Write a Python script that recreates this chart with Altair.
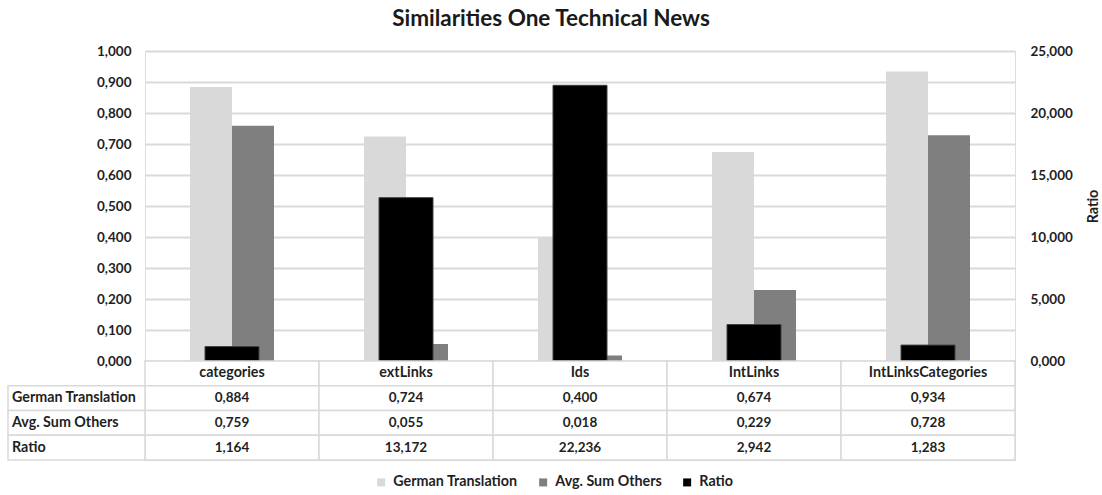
import altair as alt
import pandas as pd

# --- data -------------------------------------------------------------
categories = ["categories", "extLinks", "Ids", "IntLinks", "IntLinksCategories"]
german_translation = [0.884, 0.724, 0.400, 0.674, 0.934]
avg_sum_others = [0.759, 0.055, 0.018, 0.229, 0.728]
ratio = [1.164, 13.172, 22.236, 2.942, 1.283]

series = ["German Translation", "Avg. Sum Others", "Ratio"]
series_colors = ["#d9d9d9", "#7f7f7f", "#000000"]

left_ticks = [i / 10 for i in range(11)]
right_ticks = [0, 5, 10, 15, 20, 25]

FONT = "Lato"
TEXT_COLOR = "#1f1f1f"
GRID = "#d9d9d9"
WORD_SIZE = 14.3
NUM_SIZE = 13.5


def fmt(v):
    """German-style decimal formatting with three digits."""
    return f"{v:.3f}".replace(".", ",")


primary_df = pd.DataFrame({
    "category": categories * 2,
    "series": [series[0]] * len(categories) + [series[1]] * len(categories),
    "value": german_translation + avg_sum_others,
})
ratio_df = pd.DataFrame({"category": categories, "series": series[2], "value": ratio})

rows = ["header"] + series
header_records = [{"category": c, "row": "header", "text": c} for c in categories]
value_records = []
for i, c in enumerate(categories):
    value_records.append({"category": c, "row": series[0], "text": fmt(german_translation[i])})
    value_records.append({"category": c, "row": series[1], "text": fmt(avg_sum_others[i])})
    value_records.append({"category": c, "row": series[2], "text": fmt(ratio[i])})
header_df = pd.DataFrame(header_records)
values_df = pd.DataFrame(value_records)
cells_df = pd.concat([header_df, values_df], ignore_index=True)
row_labels_df = pd.DataFrame({"row": series, "text": series})

# --- shared encodings ---------------------------------------------------
PLOT_H = 310
TABLE_BOTTOM = 409

x_enc = alt.X("category:N", sort=categories,
              scale=alt.Scale(domain=categories, paddingInner=0, paddingOuter=0),
              axis=None)
color_enc = alt.Color(
    "series:N",
    scale=alt.Scale(domain=series, range=series_colors),
    legend=alt.Legend(
        title=None, orient="none", direction="horizontal",
        legendX=229, legendY=424, padding=0,
        symbolType="square", symbolSize=64, symbolStrokeWidth=0,
        labelFont=FONT, labelFontSize=WORD_SIZE, labelFontWeight="bold",
        labelColor=TEXT_COLOR, labelOffset=5, columnPadding=18,
    ),
)
row_enc = alt.Y("row:N", sort=rows,
                scale=alt.Scale(domain=rows, range=[PLOT_H, TABLE_BOTTOM],
                                paddingInner=0, paddingOuter=0),
                axis=None)

# --- bars on the primary axis --------------------------------------------
# the two bars of a category share the middle 84 px of its 174 px band
primary = alt.Chart(primary_df).mark_bar().encode(
    x=x_enc,
    xOffset=alt.XOffset("series:N", sort=series[:2],
                        scale=alt.Scale(domain=series[:2], range=[45, 129],
                                        paddingInner=0, paddingOuter=0)),
    y=alt.Y("value:Q",
            scale=alt.Scale(domain=[0, 1], range=[PLOT_H, 0], nice=False, zero=True),
            axis=alt.Axis(values=left_ticks, format=".3f",
                          labelExpr="replace(datum.label, '.', ',')",
                          grid=True, gridColor=GRID, gridWidth=2,
                          domain=False, ticks=False, labelPadding=14,
                          labelFont=FONT, labelFontSize=NUM_SIZE, labelFontWeight="bold",
                          labelColor=TEXT_COLOR, title=None)),
    color=color_enc,
)

# --- ratio bars on the secondary axis ------------------------------------
secondary = alt.Chart(ratio_df).mark_bar(width=54, stroke="#404040", strokeWidth=1).encode(
    x=x_enc,
    y=alt.Y("value:Q",
            scale=alt.Scale(domain=[0, 25], range=[PLOT_H, 0], nice=False, zero=True),
            axis=alt.Axis(orient="right", values=right_ticks, format=".3f",
                          labelExpr="replace(datum.label, '.', ',')",
                          grid=False, domain=False, ticks=False, labelPadding=15,
                          labelFont=FONT, labelFontSize=NUM_SIZE, labelFontWeight="bold",
                          labelColor=TEXT_COLOR,
                          title="Ratio", titleAngle=270, titlePadding=28,
                          titleFont=FONT, titleFontSize=WORD_SIZE, titleFontWeight="bold",
                          titleColor=TEXT_COLOR)),
    color=color_enc,
)

# --- data table below the plot ---------------------------------------------
cell_boxes = alt.Chart(cells_df).mark_rect(
    fill="white", stroke=GRID, strokeWidth=1.5
).encode(x=x_enc, y=row_enc)

header_text = alt.Chart(header_df).mark_text(
    font=FONT, fontSize=WORD_SIZE, fontWeight="bold", color=TEXT_COLOR
).encode(x=x_enc, y=row_enc, text="text:N")

value_text = alt.Chart(values_df).mark_text(
    font=FONT, fontSize=NUM_SIZE, fontWeight="bold", color=TEXT_COLOR
).encode(x=x_enc, y=row_enc, text="text:N")

label_boxes = alt.Chart(row_labels_df).mark_rect(
    fill="white", stroke=GRID, strokeWidth=1.5
).encode(x=alt.value(-137), x2=alt.value(0), y=row_enc)

label_text = alt.Chart(row_labels_df).mark_text(
    font=FONT, fontSize=WORD_SIZE, fontWeight="bold", color=TEXT_COLOR, align="left"
).encode(x=alt.value(-133), y=row_enc, text="text:N")

chart = alt.layer(
    primary, secondary, cell_boxes, header_text, value_text, label_boxes, label_text
).resolve_scale(
    y="independent"
).properties(
    width=870,
    height=TABLE_BOTTOM,
    autosize="none",
    padding={"left": 145, "top": 51, "right": 87, "bottom": 35},
    title=alt.TitleParams(
        "Similarities One Technical News",
        font=FONT, fontSize=22.5, fontWeight="bold", color="#1a1a1a",
        anchor="middle", dx=-29, offset=14,
    ),
).configure_view(
    stroke=None
).configure(
    background="white"
)

chart.save("out.html", embed_options={"renderer": "svg", "actions": False})
